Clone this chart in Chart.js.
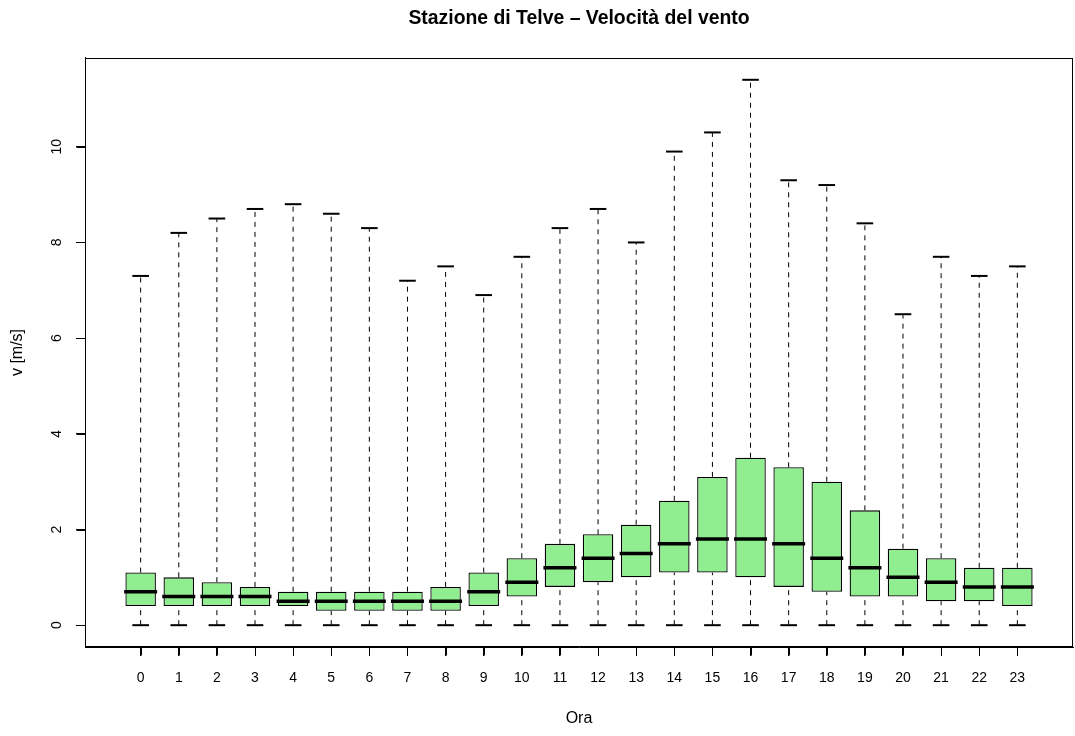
<!DOCTYPE html>
<html>
<head>
<meta charset="utf-8">
<script src="https://cdn.jsdelivr.net/npm/chart.js@4.4.1/dist/chart.umd.min.js"></script>
<style>
  html, body { margin: 0; padding: 0; background: #ffffff; }
  #wrap { width: 1075px; height: 736px; }
</style>
</head>
<body>
<div id="wrap"><canvas id="c" width="1075" height="736"></canvas></div>
<script>
// ---- data ----
const hours = ['0','1','2','3','4','5','6','7','8','9','10','11','12','13','14','15','16','17','18','19','20','21','22','23'];
const whiskerLow = [0,0,0,0,0,0,0,0,0,0,0,0,0,0,0,0,0,0,0,0,0,0,0,0];
const q1 = [0.4,0.4,0.4,0.4,0.4,0.3,0.3,0.3,0.3,0.4,0.6,0.8,0.9,1.0,1.1,1.1,1.0,0.8,0.7,0.6,0.6,0.5,0.5,0.4];
const median = [0.7,0.6,0.6,0.6,0.5,0.5,0.5,0.5,0.5,0.7,0.9,1.2,1.4,1.5,1.7,1.8,1.8,1.7,1.4,1.2,1.0,0.9,0.8,0.8];
const q3 = [1.1,1.0,0.9,0.8,0.7,0.7,0.7,0.7,0.8,1.1,1.4,1.7,1.9,2.1,2.6,3.1,3.5,3.3,3.0,2.4,1.6,1.4,1.2,1.2];
const whiskerHigh = [7.3,8.2,8.5,8.7,8.8,8.6,8.3,7.2,7.5,6.9,7.7,8.3,8.7,8.0,9.9,10.3,11.4,9.3,9.2,8.4,6.5,7.7,7.3,7.5];
const yTickValues = [0,2,4,6,8,10];

const titleText = 'Stazione di Telve \u2013 Velocit\u00e0 del vento';
const xTitle = 'Ora';
const yTitle = 'v [m/s]';

// ---- derived structures for the library ----
const boxData = hours.map((h, i) => ({ x: i, y: [q1[i], q3[i]] }));
const medianData = hours.map((h, i) => ({ x: i, y: median[i] }));
const capData = [];
hours.forEach((h, i) => { capData.push({ x: i, y: whiskerHigh[i] }); capData.push({ x: i, y: whiskerLow[i] }); });
const whiskerData = [];
hours.forEach((h, i) => {
  whiskerData.push({ x: i, y: whiskerLow[i] });
  whiskerData.push({ x: i, y: q1[i] });
  whiskerData.push({ x: i, y: null });
  whiskerData.push({ x: i, y: q3[i] });
  whiskerData.push({ x: i, y: whiskerHigh[i] });
  whiskerData.push({ x: i, y: null });
});

// R-style axis range (4% extension)
const nCat = hours.length;
const xLo = -0.5, xHi = nCat - 0.5;
const xPad = (xHi - xLo) * 0.04;
const yDataMin = Math.min(...whiskerLow), yDataMax = Math.max(...whiskerHigh);
const yPad = (yDataMax - yDataMin) * 0.04;

const FONT = "'Liberation Sans', Arial, Helvetica, sans-serif";
const TICK_LEN = 9;

// box frame around the plot region + outward tick marks (positions from the scales)
const framePlugin = {
  id: 'frame',
  afterDraw(chart) {
    const { ctx, chartArea: a, scales } = chart;
    ctx.save();
    ctx.strokeStyle = '#000';
    ctx.lineWidth = 1;
    const l = Math.round(a.left) + 0.5, t = Math.round(a.top) + 0.5;
    const r = Math.round(a.right) - 0.5, b = Math.round(a.bottom) - 0.5;
    ctx.strokeRect(l, t, r - l, b - t);
    ctx.beginPath();
    scales.x.ticks.forEach(tk => {
      const px = Math.round(scales.x.getPixelForValue(tk.value)) + 0.5;
      ctx.moveTo(px, b);
      ctx.lineTo(px, b + TICK_LEN);
    });
    ctx.stroke();
    ctx.beginPath();
    scales.y.ticks.forEach(tk => {
      const py = Math.round(scales.y.getPixelForValue(tk.value)) + 0.5;
      ctx.moveTo(l - TICK_LEN, py);
      ctx.lineTo(l, py);
    });
    ctx.stroke();
    ctx.restore();
  }
};

new Chart(document.getElementById('c'), {
  type: 'bar',
  data: {
    datasets: [
      {
        type: 'line',
        data: whiskerData,
        borderColor: '#000',
        borderWidth: 1,
        borderDash: [5, 5],
        pointRadius: 0,
        spanGaps: false,
        fill: false,
        clip: false,
        order: 4
      },
      {
        type: 'bar',
        data: boxData,
        backgroundColor: '#90ee90',
        borderColor: '#000',
        borderWidth: 1.3,
        borderSkipped: false,
        categoryPercentage: 0.8,
        barPercentage: 1.0,
        order: 3
      },
      {
        type: 'line',
        data: capData,
        showLine: false,
        pointStyle: 'line',
        pointRadius: 8.3,
        pointBorderWidth: 2,
        pointBorderColor: '#000',
        pointBackgroundColor: '#000',
        clip: false,
        order: 2
      },
      {
        type: 'line',
        data: medianData,
        showLine: false,
        pointStyle: 'line',
        pointRadius: 16.5,
        pointBorderWidth: 3.5,
        pointBorderColor: '#000',
        pointBackgroundColor: '#000',
        clip: false,
        order: 1
      }
    ]
  },
  options: {
    responsive: false,
    animation: false,
    devicePixelRatio: 1,
    events: [],
    layout: { autoPadding: false, padding: { left: 0, right: 2, top: 0, bottom: 0 } },
    plugins: {
      legend: { display: false },
      tooltip: { enabled: false },
      title: {
        display: true,
        fullSize: false,
        text: titleText,
        color: '#000',
        font: { family: FONT, size: 19.4, weight: 'bold' },
        padding: { top: 7.5, bottom: 27.2 }
      }
    },
    scales: {
      x: {
        type: 'linear',
        min: xLo - xPad,
        max: xHi + xPad,
        offset: false,
        afterBuildTicks(scale) { scale.ticks = hours.map((h, i) => ({ value: i })); },
        afterFit(scale) { scale.height = 89; },
        ticks: {
          color: '#000',
          font: { family: FONT, size: 14 },
          padding: 14,
          maxRotation: 0,
          minRotation: 0,
          autoSkip: false,
          callback: (v) => hours[v]
        },
        grid: { display: true, offset: false, drawOnChartArea: false, drawTicks: true, tickLength: TICK_LEN, color: '#000', lineWidth: 1 },
        border: { display: true, color: '#000', width: 1 },
        title: {
          display: true,
          text: xTitle,
          color: '#000',
          font: { family: FONT, size: 16 },
          padding: { top: 0, bottom: 7.5 }
        }
      },
      y: {
        type: 'linear',
        min: yDataMin - yPad,
        max: yDataMax + yPad,
        afterBuildTicks(scale) { scale.ticks = yTickValues.map(v => ({ value: v })); },
        afterFit(scale) { scale.width = 85; },
        ticks: {
          color: '#000',
          font: { family: FONT, size: 14 },
          padding: 11,
          minRotation: 90,
          maxRotation: 90,
          crossAlign: 'center',
          autoSkip: false
        },
        grid: { display: true, offset: false, drawOnChartArea: false, drawTicks: true, tickLength: TICK_LEN, color: '#000', lineWidth: 1 },
        border: { display: true, color: '#000', width: 1 },
        title: {
          display: true,
          text: yTitle,
          color: '#000',
          font: { family: FONT, size: 16 },
          padding: { top: 7.8, bottom: 0 }
        }
      }
    }
  },
  plugins: [framePlugin]
});
</script>
</body>
</html>
